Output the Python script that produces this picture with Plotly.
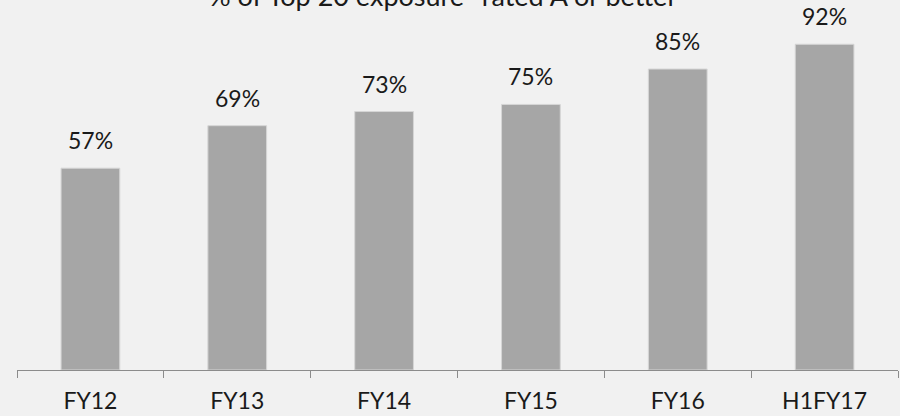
import plotly.graph_objects as go

categories = ["FY12", "FY13", "FY14", "FY15", "FY16", "H1FY17"]
values = [57, 69, 73, 75, 85, 92]
labels = ["57%", "69%", "73%", "75%", "85%", "92%"]
title_text = "% of Top 20 exposure* rated A or better"

FONT = "Lato"
TXT = "#1a1a1a"

fig = go.Figure()
fig.add_trace(go.Bar(
    x=categories, y=values,
    marker=dict(color="#a6a6a6", line=dict(color="#d6d6d6", width=1)),
    hoverinfo="skip",
))

for c, v, t in zip(categories, values, labels):
    fig.add_annotation(x=c, y=v, text=t, showarrow=False, yanchor="bottom",
                       yshift=12, font=dict(family=FONT, size=23, color=TXT))

fig.add_annotation(xref="paper", yref="paper", x=0.484, y=1, text=title_text,
                   showarrow=False, yanchor="bottom", yshift=-14,
                   font=dict(family=FONT, size=27, color=TXT))

fig.update_layout(
    width=900, height=416,
    margin=dict(l=17, r=2, t=0, b=46, autoexpand=False),
    paper_bgcolor="#f1f1f1", plot_bgcolor="#f1f1f1",
    bargap=0.6, showlegend=False,
    font=dict(family=FONT, size=23, color=TXT),
)
fig.update_xaxes(
    type="category", range=[-0.5, 5.5], automargin=False,
    showline=True, linecolor="#8c8c8c", linewidth=1,
    ticks="outside", ticklen=7, tickcolor="#8c8c8c", tickson="boundaries",
    showgrid=False, ticklabelstandoff=10,
    tickfont=dict(family=FONT, size=23, color=TXT),
)
fig.update_yaxes(range=[0, 104.5], visible=False, showgrid=False, automargin=False)

fig.write_html("out.html", config={"displayModeBar": False},
               post_script="document.body.style.margin='0';document.body.style.overflow='hidden';")
